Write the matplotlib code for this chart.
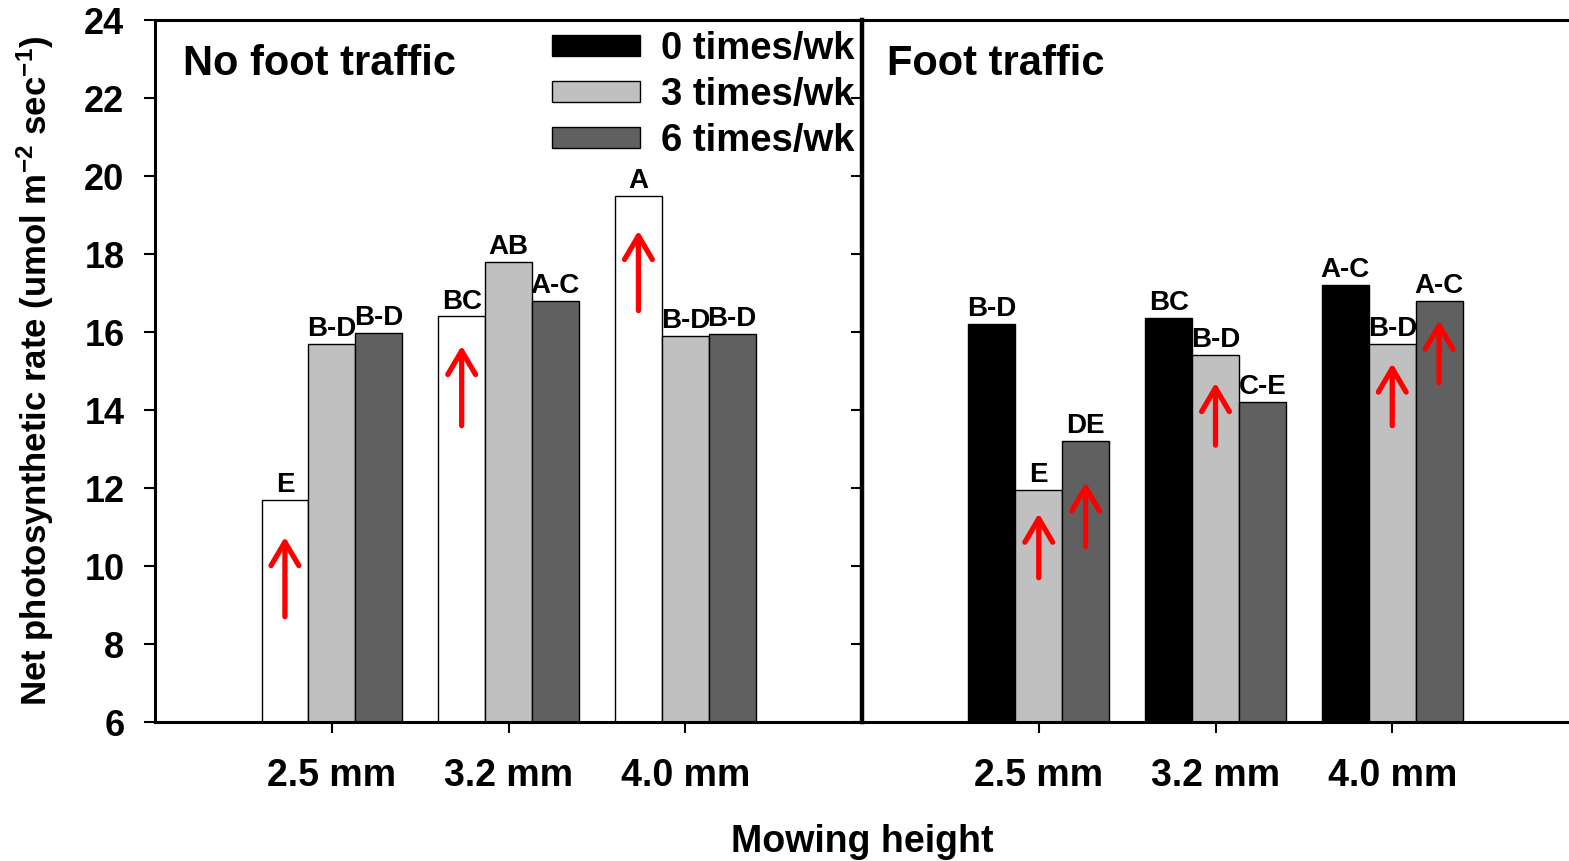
import numpy as np
import matplotlib.pyplot as plt

plt.rcParams['font.family'] = ['Liberation Sans', 'DejaVu Sans']
plt.rcParams['font.weight'] = 'bold'
plt.rcParams['mathtext.fontset'] = 'custom'
plt.rcParams['mathtext.rm'] = 'Liberation Sans:bold'
plt.rcParams['mathtext.it'] = 'Liberation Sans:bold'
plt.rcParams['mathtext.bf'] = 'Liberation Sans:bold'

# data
heights = ['2.5 mm', '3.2 mm', '4.0 mm']
series = ['0 times/wk', '3 times/wk', '6 times/wk']

# no foot traffic: rows = mowing height, cols = traffic frequency
no_traffic = [[11.7, 15.7, 15.97],
              [16.4, 17.8, 16.8],
              [19.5, 15.9, 15.95]]
no_traffic_letters = [['E', 'B-D', 'B-D'],
                      ['BC', 'AB', 'A-C'],
                      ['A', 'B-D', 'B-D']]

foot_traffic = [[16.2, 11.95, 13.2],
                [16.35, 15.4, 14.2],
                [17.2, 15.7, 16.8]]
foot_traffic_letters = [['B-D', 'E', 'DE'],
                        ['BC', 'B-D', 'C-E'],
                        ['A-C', 'B-D', 'A-C']]

# red arrows: (height index, series index, tail value, tip value)
no_traffic_arrows = [(0, 0, 8.7, 10.75), (1, 0, 13.6, 15.65), (2, 0, 16.55, 18.6)]
foot_traffic_arrows = [(0, 1, 9.7, 11.35), (0, 2, 10.5, 12.15), (1, 1, 13.1, 14.7),
                       (2, 1, 13.6, 15.2), (2, 2, 14.7, 16.3)]

colors_no = ['white', '#c0c0c0', '#606060']
colors_ft = ['black', '#c0c0c0', '#606060']
bar_w = 0.265
x = np.arange(1, len(heights) + 1)

fig = plt.figure(figsize=(15.69, 8.61), dpi=100)
ax1 = fig.add_axes([0.0988, 0.1614, 0.4506, 0.8153])
ax2 = fig.add_axes([0.5494, 0.1614, 0.4506, 0.8153])


def draw_panel(ax, values, letters, colors, arrows):
    vals = np.array(values)
    for j in range(len(series)):
        xs = x + (j - 1) * bar_w
        ax.bar(xs, vals[:, j] - 6, bottom=6, width=bar_w, color=colors[j],
               edgecolor='black', linewidth=1.0, label=series[j], zorder=2)
        for i in range(len(heights)):
            ax.text(xs[i], vals[i, j] + 0.05, letters[i][j], ha='center', va='bottom',
                    fontsize=20, fontweight='bold', zorder=4)
    for i, j, tail, tip in arrows:
        xa = x[i] + (j - 1) * bar_w
        ax.annotate('', xy=(xa, tip), xytext=(xa, tail),
                    arrowprops=dict(arrowstyle='->,head_length=0.85,head_width=0.5',
                                    color='red', lw=3.8, shrinkA=0, shrinkB=0,
                                    mutation_scale=20), zorder=5)
    ax.set_xlim(0, 4)
    ax.set_ylim(6, 24)
    ax.set_xticks(x)
    ax.set_xticklabels(heights, fontsize=27, fontweight='bold')
    ax.tick_params(axis='x', direction='out', length=8, width=1.5, pad=18)


draw_panel(ax1, no_traffic, no_traffic_letters, colors_no, no_traffic_arrows)
draw_panel(ax2, foot_traffic, foot_traffic_letters, colors_ft, foot_traffic_arrows)

ax1.set_yticks(np.arange(6, 25, 2))
ax1.set_yticklabels([str(v) for v in range(6, 25, 2)], fontsize=26, fontweight='bold')
ax1.tick_params(axis='y', direction='out', length=8, width=1.5, pad=14)
for s in ['left', 'top', 'bottom']:
    ax1.spines[s].set_linewidth(2.2)
ax1.spines['right'].set_visible(False)

ax2.set_yticks(np.arange(6, 25, 2))
ax2.set_yticklabels([])
ax2.tick_params(axis='y', direction='out', length=8, width=1.5)
ax2.spines['left'].set_linewidth(3.2)
ax2.spines['top'].set_linewidth(2.2)
ax2.spines['bottom'].set_linewidth(2.2)
ax2.spines['right'].set_visible(False)

ax1.set_ylabel('Net photosynthetic rate (umol m$^{-2}$ sec$^{-1}$)', fontsize=25,
               fontweight='bold', labelpad=20)

ax1.text(0.04, 0.938, 'No foot traffic', transform=ax1.transAxes, fontsize=30,
         fontweight='bold', va='center', ha='left')
ax2.text(0.035, 0.938, 'Foot traffic', transform=ax2.transAxes, fontsize=30,
         fontweight='bold', va='center', ha='left')

# legend uses the black / gray swatches from the foot traffic panel
handles = ax2.get_legend_handles_labels()[0]
ax1.legend(handles, series, loc='upper right', bbox_to_anchor=(1.0, 0.995),
           frameon=False, fontsize=27.5, handlelength=2.3, handleheight=0.45,
           handletextpad=0.55, labelspacing=0.26, borderpad=0.1, borderaxespad=0.1)

fig.text(862 / 1569, 1 - 842 / 861, 'Mowing height', ha='center', va='center',
         fontsize=27, fontweight='bold')

fig.savefig('out.png', dpi=100)
